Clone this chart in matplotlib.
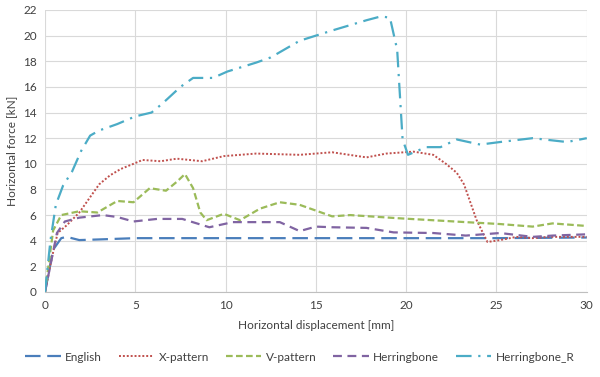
import matplotlib
matplotlib.use("Agg")
import matplotlib.pyplot as plt

plt.rcParams['font.family'] = ['Lato', 'DejaVu Sans']

# Data (displacement in mm, force in kN)
english_x = [0, 0.45, 0.9, 1.2, 1.9, 3, 5, 10, 15, 20, 25, 30]
english_y = [0, 3.3, 4.2, 4.3, 4.05, 4.1, 4.2, 4.2, 4.2, 4.2, 4.2, 4.25]

xpat_x = [0, 0.4, 0.7, 1.2, 1.9, 2.5, 3.0, 3.6, 4.2, 4.9, 5.4, 6.4, 7.3, 8.7, 9.9, 11.7,
          14.1, 15.9, 17.8, 18.9, 20.4, 21.5, 22.2, 22.8, 23.2, 23.9, 24.5, 25.2, 26.1,
          27.0, 27.9, 30]
xpat_y = [0, 2.8, 4.6, 5.2, 6.2, 7.4, 8.4, 9.1, 9.6, 10.0, 10.3, 10.2, 10.4, 10.2, 10.6, 10.8,
          10.7, 10.9, 10.5, 10.8, 10.95, 10.7, 10.0, 9.3, 8.4, 5.6, 3.9, 4.05, 4.3,
          4.2, 4.3, 4.3]

vpat_x = [0, 0.45, 0.9, 1.9, 2.9, 4.0, 4.9, 5.8, 6.7, 7.3, 7.75, 8.2, 8.6, 8.95, 9.9, 10.8,
          11.9, 13.0, 14.1, 15.9, 16.9, 19.6, 23.3, 25.2, 27.0, 28.1, 30]
vpat_y = [0, 4.8, 6.0, 6.3, 6.2, 7.1, 7.0, 8.1, 7.9, 8.6, 9.2, 8.1, 6.2, 5.6, 6.1, 5.6,
          6.5, 7.0, 6.8, 5.9, 6.0, 5.75, 5.45, 5.3, 5.1, 5.35, 5.15]

herr_x = [0, 0.66, 1.1, 1.9, 3.2, 4.0, 4.9, 6.2, 7.6, 9.1, 10.4, 13.0, 14.1, 15.0, 15.9,
          17.8, 19.3, 21.5, 23.3, 25.2, 27.0, 28.1, 30]
herr_y = [0, 4.6, 5.5, 5.8, 6.0, 5.85, 5.5, 5.7, 5.7, 5.05, 5.45, 5.45, 4.75, 5.1, 5.05,
          5.0, 4.65, 4.6, 4.4, 4.6, 4.3, 4.4, 4.5]

herr_r_x = [0, 0.3, 0.6, 1.0, 1.5, 2.0, 2.5, 3.0, 4.0, 5.0, 5.9, 6.5, 7.5, 8.2, 9.3, 10.1,
            11.7, 12.5, 14.1, 15.9, 17.8, 18.6, 19.1, 19.5, 19.8, 20.1, 21.1, 21.9, 22.8,
            24.1, 25.2, 27.0, 28.9, 30]
herr_r_y = [0, 4.0, 6.8, 8.3, 9.4, 11.0, 12.2, 12.6, 13.1, 13.7, 14.0, 14.7, 16.0, 16.7, 16.7, 17.2,
            17.9, 18.3, 19.6, 20.4, 21.2, 21.5, 21.4, 18.9, 11.9, 10.7, 11.3, 11.3, 11.9,
            11.5, 11.7, 12.0, 11.7, 12.0]

fig = plt.figure(figsize=(6, 3.77), dpi=100)
ax = fig.add_axes([0.075, 0.2255, 0.903, 0.748])

ax.plot(english_x, english_y, color='#4a7ebb', lw=1.6, dashes=(7, 3), label='English')
ax.plot(xpat_x, xpat_y, color='#c0504d', lw=1.4, dashes=(1, 1), label='X-pattern')
ax.plot(vpat_x, vpat_y, color='#9bbb59', lw=1.6, dashes=(3, 1.5), label='V-pattern')
ax.plot(herr_x, herr_y, color='#8064a2', lw=1.6, dashes=(4, 2.5), label='Herringbone')
ax.plot(herr_r_x, herr_r_y, color='#4bacc6', lw=1.6, dashes=(7, 3, 1, 3), label='Herringbone_R')

ax.set_xlim(0, 30)
ax.set_ylim(0, 22)
ax.set_xticks(range(0, 31, 5))
ax.set_yticks(range(0, 23, 2))
ax.grid(True, color='#d9d9d9', lw=0.8)
ax.set_axisbelow(True)
for s in ['top', 'right', 'left']:
    ax.spines[s].set_visible(False)
ax.spines['bottom'].set_color('#bfbfbf')
ax.tick_params(length=0, labelsize=8.5, colors='#404040', pad=6)

ax.set_xlabel('Horizontal displacement [mm]', fontsize=8.5, color='#404040', labelpad=6)
ax.set_ylabel('Horizontal force [kN]', fontsize=8.5, color='#404040', labelpad=4)

fig.legend(loc='lower center', ncol=5, frameon=False, fontsize=8.5, bbox_to_anchor=(0.5, 0.01),
           handlelength=3.0, handletextpad=0.4, columnspacing=1.4, labelcolor='#404040')

plt.savefig('out.png', dpi=100)
